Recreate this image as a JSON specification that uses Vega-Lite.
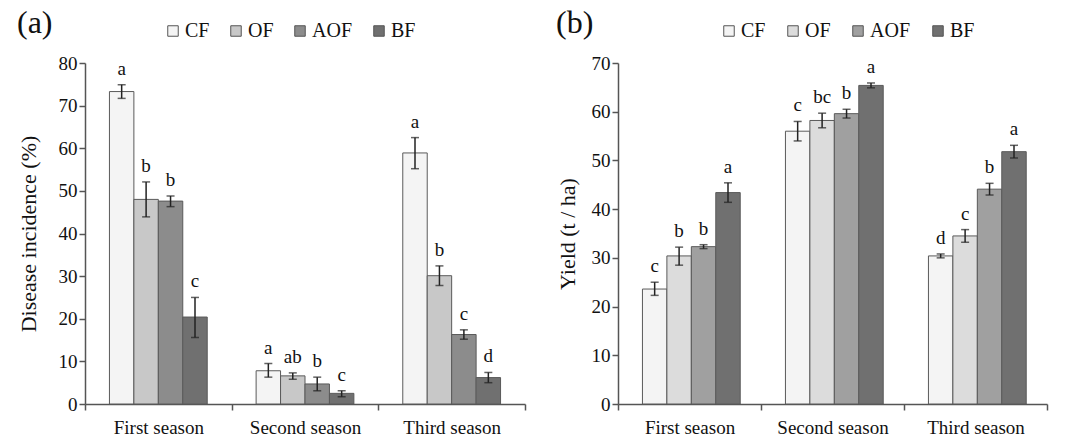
{
  "$schema": "https://vega.github.io/schema/vega-lite/v6.json",
  "padding": {"left": 17, "top": 7, "right": 5, "bottom": 0},
  "background": "white",
  "config": {
    "view": {"stroke": null},
    "font": "Liberation Serif",
    "axis": {"labelFont": "Liberation Serif", "titleFont": "Liberation Serif", "labelFontSize": 19, "titleFontSize": 22, "titleFontWeight": "normal", "labelColor": "#111", "titleColor": "#111", "domainColor": "#555", "tickColor": "#555", "domainWidth": 1.5, "tickWidth": 1.5, "tickSize": 6, "grid": false},
    "legend": {"labelFont": "Liberation Serif", "labelFontSize": 20, "labelColor": "#111"},
    "title": {"font": "Liberation Serif"}
  },
  "datasets": {
    "a": [
      {"season": "First season", "treatment": "CF", "mean": 73.3, "lo": 71.7, "hi": 74.9, "letter": "a"},
      {"season": "First season", "treatment": "OF", "mean": 48.0, "lo": 43.9, "hi": 52.1, "letter": "b"},
      {"season": "First season", "treatment": "AOF", "mean": 47.6, "lo": 46.3, "hi": 48.8, "letter": "b"},
      {"season": "First season", "treatment": "BF", "mean": 20.4, "lo": 15.6, "hi": 25.0, "letter": "c"},
      {"season": "Second season", "treatment": "CF", "mean": 7.8, "lo": 6.3, "hi": 9.5, "letter": "a"},
      {"season": "Second season", "treatment": "OF", "mean": 6.6, "lo": 5.8, "hi": 7.3, "letter": "ab"},
      {"season": "Second season", "treatment": "AOF", "mean": 4.7, "lo": 3.1, "hi": 6.3, "letter": "b"},
      {"season": "Second season", "treatment": "BF", "mean": 2.5, "lo": 1.7, "hi": 3.1, "letter": "c"},
      {"season": "Third season", "treatment": "CF", "mean": 58.9, "lo": 55.2, "hi": 62.5, "letter": "a"},
      {"season": "Third season", "treatment": "OF", "mean": 30.1, "lo": 27.8, "hi": 32.4, "letter": "b"},
      {"season": "Third season", "treatment": "AOF", "mean": 16.3, "lo": 15.2, "hi": 17.4, "letter": "c"},
      {"season": "Third season", "treatment": "BF", "mean": 6.2, "lo": 5.0, "hi": 7.4, "letter": "d"}
    ],
    "b": [
      {"season": "First season", "treatment": "CF", "mean": 23.6, "lo": 22.3, "hi": 25.0, "letter": "c"},
      {"season": "First season", "treatment": "OF", "mean": 30.4, "lo": 28.5, "hi": 32.2, "letter": "b"},
      {"season": "First season", "treatment": "AOF", "mean": 32.3, "lo": 31.9, "hi": 32.7, "letter": "b"},
      {"season": "First season", "treatment": "BF", "mean": 43.4, "lo": 41.4, "hi": 45.4, "letter": "a"},
      {"season": "Second season", "treatment": "CF", "mean": 56.0, "lo": 54.0, "hi": 58.0, "letter": "c"},
      {"season": "Second season", "treatment": "OF", "mean": 58.2, "lo": 56.7, "hi": 59.7, "letter": "bc"},
      {"season": "Second season", "treatment": "AOF", "mean": 59.6, "lo": 58.7, "hi": 60.5, "letter": "b"},
      {"season": "Second season", "treatment": "BF", "mean": 65.4, "lo": 64.9, "hi": 65.9, "letter": "a"},
      {"season": "Third season", "treatment": "CF", "mean": 30.4, "lo": 30.0, "hi": 30.8, "letter": "d"},
      {"season": "Third season", "treatment": "OF", "mean": 34.5, "lo": 33.2, "hi": 35.8, "letter": "c"},
      {"season": "Third season", "treatment": "AOF", "mean": 44.1, "lo": 42.9, "hi": 45.3, "letter": "b"},
      {"season": "Third season", "treatment": "BF", "mean": 51.8, "lo": 50.5, "hi": 53.1, "letter": "a"}
    ]
  },
  "spacing": 30,
  "hconcat": [
    {
      "width": 440,
      "height": 341,
      "data": {"name": "a"},
      "title": {"text": "(a)", "anchor": "start", "fontSize": 32, "font": "Liberation Serif", "fontWeight": "normal", "color": "#111", "offset": -19},
      "encoding": {
        "x": {"field": "season", "type": "nominal", "scale": {"paddingInner": 0, "paddingOuter": 0}, "axis": {"title": null, "labelAngle": 0, "tickBand": "extent", "labelPadding": 8}},
        "xOffset": {"field": "treatment", "type": "nominal", "sort": ["CF", "OF", "AOF", "BF"], "scale": {"paddingOuter": 1.1, "paddingInner": 0}}
      },
      "layer": [
        {
          "mark": {"type": "bar", "stroke": "#5a5a5a", "strokeWidth": 1},
          "encoding": {
            "y": {"field": "mean", "type": "quantitative", "scale": {"domain": [0, 80]}, "axis": {"title": "Disease incidence (%)", "values": [0, 10, 20, 30, 40, 50, 60, 70, 80], "titlePadding": 18}},
            "color": {"field": "treatment", "type": "nominal", "sort": ["CF", "OF", "AOF", "BF"], "scale": {"domain": ["CF", "OF", "AOF", "BF"], "range": ["#f4f4f4", "#c8c8c8", "#8c8c8c", "#707070"]}, "legend": {"title": null, "orient": "none", "direction": "horizontal", "legendX": 78, "legendY": -42, "symbolType": "square", "symbolSize": 110, "symbolStrokeColor": "#555", "symbolStrokeWidth": 1, "columnPadding": 16, "labelOffset": 2, "labelFont": "Liberation Serif"}}
          }
        },
        {
          "mark": {"type": "rule", "color": "#222", "strokeWidth": 1.5},
          "encoding": {"y": {"field": "lo", "type": "quantitative"}, "y2": {"field": "hi"}}
        },
        {
          "mark": {"type": "tick", "orient": "horizontal", "color": "#222", "thickness": 1.5, "size": 8},
          "encoding": {"y": {"field": "lo", "type": "quantitative"}}
        },
        {
          "mark": {"type": "tick", "orient": "horizontal", "color": "#222", "thickness": 1.5, "size": 8},
          "encoding": {"y": {"field": "hi", "type": "quantitative"}}
        },
        {
          "mark": {"type": "text", "baseline": "bottom", "dy": -6, "fontSize": 19, "font": "Liberation Serif", "color": "#111"},
          "encoding": {"y": {"field": "hi", "type": "quantitative"}, "text": {"field": "letter"}}
        }
      ]
    },
    {
      "width": 429,
      "height": 341,
      "data": {"name": "b"},
      "title": {"text": "(b)", "anchor": "start", "fontSize": 32, "font": "Liberation Serif", "fontWeight": "normal", "color": "#111", "offset": -19},
      "encoding": {
        "x": {"field": "season", "type": "nominal", "scale": {"paddingInner": 0, "paddingOuter": 0}, "axis": {"title": null, "labelAngle": 0, "tickBand": "extent", "labelPadding": 8}},
        "xOffset": {"field": "treatment", "type": "nominal", "sort": ["CF", "OF", "AOF", "BF"], "scale": {"paddingOuter": 1.1, "paddingInner": 0}}
      },
      "layer": [
        {
          "mark": {"type": "bar", "stroke": "#5a5a5a", "strokeWidth": 1},
          "encoding": {
            "y": {"field": "mean", "type": "quantitative", "scale": {"domain": [0, 70]}, "axis": {"title": "Yield (t / ha)", "values": [0, 10, 20, 30, 40, 50, 60, 70], "titlePadding": 12}},
            "color": {"field": "treatment", "type": "nominal", "sort": ["CF", "OF", "AOF", "BF"], "scale": {"domain": ["CF", "OF", "AOF", "BF"], "range": ["#f4f4f4", "#dcdcdc", "#a0a0a0", "#707070"]}, "legend": {"title": null, "orient": "none", "direction": "horizontal", "legendX": 101, "legendY": -42, "symbolType": "square", "symbolSize": 110, "symbolStrokeColor": "#555", "symbolStrokeWidth": 1, "columnPadding": 17, "labelOffset": 2, "labelFont": "Liberation Serif"}}
          }
        },
        {
          "mark": {"type": "rule", "color": "#222", "strokeWidth": 1.5},
          "encoding": {"y": {"field": "lo", "type": "quantitative"}, "y2": {"field": "hi"}}
        },
        {
          "mark": {"type": "tick", "orient": "horizontal", "color": "#222", "thickness": 1.5, "size": 8},
          "encoding": {"y": {"field": "lo", "type": "quantitative"}}
        },
        {
          "mark": {"type": "tick", "orient": "horizontal", "color": "#222", "thickness": 1.5, "size": 8},
          "encoding": {"y": {"field": "hi", "type": "quantitative"}}
        },
        {
          "mark": {"type": "text", "baseline": "bottom", "dy": -6, "fontSize": 19, "font": "Liberation Serif", "color": "#111"},
          "encoding": {"y": {"field": "hi", "type": "quantitative"}, "text": {"field": "letter"}}
        }
      ]
    }
  ],
  "resolve": {"scale": {"color": "independent"}}
}
